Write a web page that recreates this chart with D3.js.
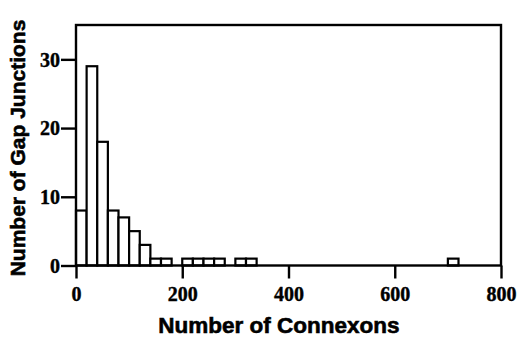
<!DOCTYPE html>
<html>
<head>
<meta charset="utf-8">
<script src="https://cdn.jsdelivr.net/npm/d3@7"></script>
<style>
  body { margin: 0; background: #fff; }
  svg { display: block; }
</style>
</head>
<body>
<div class="chart"></div>
<script>
// histogram data: bin start (connexons), count of gap junctions per bin
const binStarts = [0, 20, 40, 60, 80, 100, 120, 140, 160, 200, 220, 240, 260, 300, 320, 700];
const counts    = [8, 29, 18, 8, 7, 5, 3, 1, 1, 1, 1, 1, 1, 1, 1, 1];
const binWidth = 20;

const xTicks = [0, 200, 400, 600, 800];
const yTicks = [0, 10, 20, 30];

const xTitle = 'Number of Connexons';
const yTitle = 'Number of Gap Junctions';

const width = 519, height = 337;
const svg = d3.select('.chart').append('svg')
    .attr('width', width)
    .attr('height', height)
    .attr('viewBox', '0 0 ' + width + ' ' + height);

const x = d3.scaleLinear().domain([0, 800]).range([76, 501]);
const y = d3.scaleLinear().domain([0, 35]).range([265.5, 25]);

const bins = binStarts.map((s, i) => ({x0: s, x1: s + binWidth, n: counts[i]}));

// bars
svg.append('g')
    .selectAll('rect')
    .data(bins)
    .join('rect')
        .attr('x', d => x(d.x0))
        .attr('y', d => y(d.n))
        .attr('width', d => x(d.x1) - x(d.x0))
        .attr('height', d => y(0) - y(d.n))
        .attr('fill', '#fff')
        .attr('stroke', '#000')
        .attr('stroke-width', 2.2);

// frame
svg.append('rect')
    .attr('x', x(0))
    .attr('y', y(35))
    .attr('width', x(800) - x(0))
    .attr('height', y(0) - y(35))
    .attr('fill', 'none')
    .attr('stroke', '#000')
    .attr('stroke-width', 2.4);

// x axis
const xAxis = svg.append('g')
    .attr('transform', 'translate(0,' + y(0) + ')')
    .call(d3.axisBottom(x).tickValues(xTicks).tickSize(13).tickSizeOuter(0).tickPadding(8));

// y axis
const yAxis = svg.append('g')
    .attr('transform', 'translate(' + x(0) + ',0)')
    .call(d3.axisLeft(y).tickValues(yTicks).tickSize(15).tickSizeOuter(0).tickPadding(1));

[xAxis, yAxis].forEach(g => {
    g.select('.domain').remove();
    g.selectAll('.tick line').attr('stroke', '#000').attr('stroke-width', 2.4);
    g.selectAll('.tick text')
        .attr('fill', '#000')
        .attr('stroke', '#000')
        .attr('stroke-width', 0.4)
        .style('font-family', '"Liberation Serif", "Times New Roman", serif')
        .style('font-weight', 700)
        .style('font-size', '20px');
});
yAxis.selectAll('.tick text').attr('dy', '0.34em');

// axis titles
svg.append('text')
    .attr('x', 279)
    .attr('y', 333)
    .attr('text-anchor', 'middle')
    .attr('stroke', '#000')
    .attr('stroke-width', 0.6)
    .style('font-family', '"Liberation Sans", Arial, sans-serif')
    .style('font-weight', 700)
    .style('font-size', '22.5px')
    .text(xTitle);

svg.append('text')
    .attr('transform', 'translate(25,148) rotate(-90)')
    .attr('text-anchor', 'middle')
    .attr('stroke', '#000')
    .attr('stroke-width', 0.6)
    .style('font-family', '"Liberation Sans", Arial, sans-serif')
    .style('font-weight', 700)
    .style('font-size', '21px')
    .text(yTitle);
</script>
</body>
</html>
